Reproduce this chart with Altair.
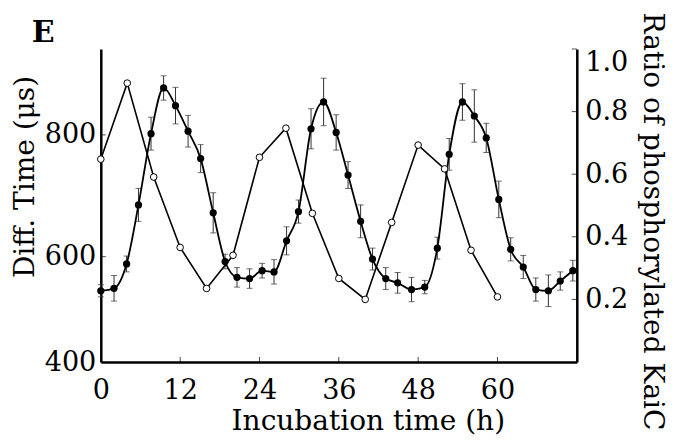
import altair as alt
import pandas as pd

# ---- data ----
time_filled = [0, 2.0, 3.9, 5.7, 7.6, 9.5, 11.3, 13.2, 15.1, 17.0, 18.8, 20.6, 22.5,
               24.4, 26.2, 28.1, 29.9, 31.8, 33.7, 35.6, 37.4, 39.3, 41.1, 43.1, 44.9,
               47.0, 49.0, 50.9, 52.7, 54.7, 56.5, 58.3, 60.2, 62.0, 63.9, 65.8, 67.7,
               69.5, 71.4]
diff_time = [544, 548, 588, 685, 802, 877, 848, 806, 761, 672, 592, 566, 564,
             577, 575, 626, 674, 810, 854, 804, 734, 658, 596, 564, 557,
             546, 550, 614, 768, 854, 831, 795, 694, 612, 583, 546, 544,
             560, 577]
diff_err = [10, 21, 13, 27, 27, 20, 30, 26, 23, 33, 12, 16, 16,
            12, 20, 23, 19, 33, 39, 29, 22, 27, 18, 18, 17,
            20, 11, 18, 26, 30, 43, 24, 30, 19, 19, 19, 26,
            15, 17]

time_open = [0, 4, 8, 12, 16, 20, 24, 28, 32, 36, 40, 44, 48, 52, 56, 60]
ratio = [0.648, 0.891, 0.591, 0.366, 0.235, 0.341, 0.654, 0.747, 0.475, 0.267,
         0.200, 0.446, 0.693, 0.617, 0.357, 0.208]

x_labels = [0, 12, 24, 36, 48, 60]
x_inner_ticks = [12, 24, 36, 48, 60]
left_ticks = [600, 800]
left_bottom = 427
left_bottom_label = "400"
right_ticks = [0.2, 0.4, 0.6, 0.8, 1.0]
panel_label = ["E"]

W, H = 476, 313
FONT = "DejaVu Serif"

filled = pd.DataFrame({"t": time_filled, "v": diff_time, "e": diff_err})
filled["lo"] = filled["v"] - filled["e"]
filled["hi"] = filled["v"] + filled["e"]
opened = pd.DataFrame({"t": time_open, "r": ratio})

xscale = alt.Scale(domain=[0, 72], nice=False, zero=False)
yl_scale = alt.Scale(domain=[left_bottom, 941], nice=False, zero=False)
yr_scale = alt.Scale(domain=[0, 1], nice=False, zero=False)

x_axis = alt.Axis(values=x_labels, tickSize=0, labelPadding=15, grid=False,
                  title="Incubation time (h)", titleX=267, titleY=67,
                  titleAlign="center", titleBaseline="alphabetic", labelAngle=0,
                  labelFlush=False)
yl_axis = alt.Axis(values=[left_bottom] + left_ticks,
                   labelExpr="datum.value < 500 ? '" + left_bottom_label + "' : datum.label",
                   tickSize=0, labelPadding=5, grid=False,
                   title="Diff. Time (μs)", titleAngle=-90, titleX=-67, titleY=127.5,
                   titleAlign="center", titleBaseline="alphabetic")
yr_axis = alt.Axis(values=right_ticks, format=".1f", orient="right", tickSize=0,
                   labelPadding=8, labelFlush=True, grid=False,
                   title="Ratio of phosphorylated KaiC", titleAngle=90, titleX=67,
                   titleY=172, titleAlign="center", titleBaseline="alphabetic",
                   titleFontSize=28)


def X(field):
    return alt.X(field, type="quantitative", scale=xscale, axis=x_axis)


def YL(field):
    return alt.Y(field, type="quantitative", scale=yl_scale, axis=yl_axis)


def YR(field):
    return alt.Y(field, type="quantitative", scale=yr_scale, axis=yr_axis)


base_f = alt.Chart(filled)
err_rule = base_f.mark_rule(color="#333333", strokeWidth=1).encode(
    x=X("t"), y=YL("lo"), y2="hi")
cap_lo = base_f.mark_tick(color="#333333", thickness=1, size=6, orient="horizontal").encode(
    x=X("t"), y=YL("lo"))
cap_hi = base_f.mark_tick(color="#333333", thickness=1, size=6, orient="horizontal").encode(
    x=X("t"), y=YL("hi"))
f_line = base_f.mark_line(color="black", strokeWidth=1.8, interpolate="monotone").encode(
    x=X("t"), y=YL("v"))
f_pts = base_f.mark_point(filled=True, color="black", size=52, opacity=1,
                          strokeWidth=0).encode(x=X("t"), y=YL("v"))

xt = alt.Chart(pd.DataFrame({"t": x_inner_ticks})).mark_tick(
    color="black", thickness=1, size=5, orient="vertical").encode(
    x=X("t"), y=alt.value(H - 2.5))
ylt = alt.Chart(pd.DataFrame({"v": left_ticks})).mark_tick(
    color="black", thickness=1, size=5, orient="horizontal").encode(
    y=YL("v"), x=alt.value(2.5))
lbl = alt.Chart(pd.DataFrame({"s": panel_label})).mark_text(
    font=FONT, fontSize=30, fontWeight="bold", align="left", baseline="alphabetic",
    color="black").encode(text="s:N", x=alt.value(-69), y=alt.value(-7))

left = alt.layer(err_rule, cap_lo, cap_hi, f_line, f_pts, xt, ylt, lbl)

base_o = alt.Chart(opened)
o_line = base_o.mark_line(color="black", strokeWidth=1.6).encode(x=X("t"), y=YR("r"))
o_pts = base_o.mark_point(filled=True, fill="white", stroke="black", strokeWidth=1,
                          size=44, opacity=1).encode(x=X("t"), y=YR("r"))
yrt = alt.Chart(pd.DataFrame({"r": right_ticks})).mark_tick(
    color="black", thickness=1, size=5, orient="horizontal").encode(
    y=YR("r"), x=alt.value(W - 2.5))

right = alt.layer(o_line, o_pts, yrt)

chart = alt.layer(left, right).resolve_scale(y="independent").properties(
    width=W, height=H,
    background="white",
    autosize=alt.AutoSizeParams(type="none"),
    padding={"left": 92.8, "top": 41, "right": 94.2, "bottom": 73},
).configure_view(stroke=None).configure_axis(
    labelFont=FONT, titleFont=FONT, labelFontSize=27, titleFontSize=28,
    titleFontWeight="normal", labelColor="black", titleColor="black",
    domainColor="black", domainWidth=2.5, tickColor="black",
)

chart.save("out.html", embed_options={"renderer": "svg", "actions": False})
